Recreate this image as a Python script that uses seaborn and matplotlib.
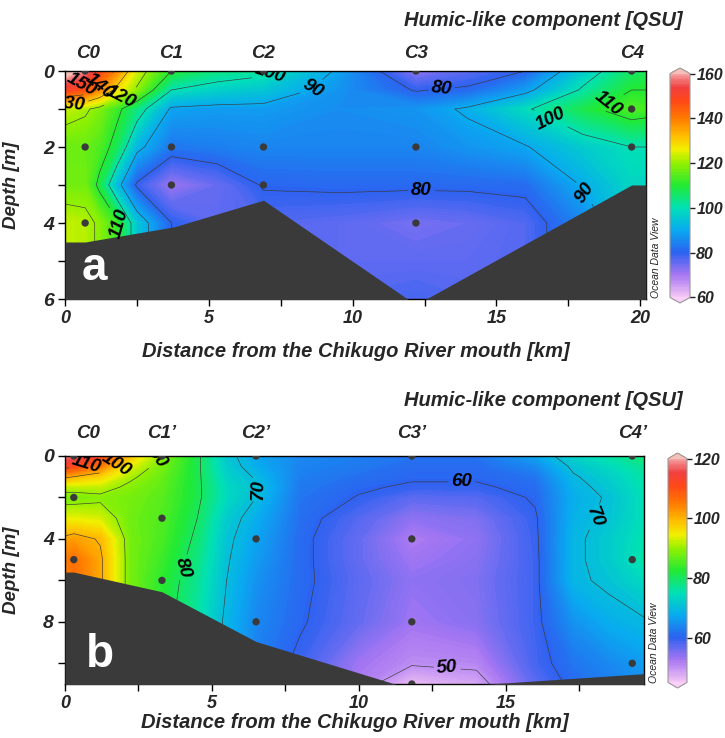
import numpy as np
import matplotlib
matplotlib.use("Agg")
import matplotlib.pyplot as plt
import seaborn as sns
from matplotlib.colors import LinearSegmentedColormap
from matplotlib.ticker import MultipleLocator
import matplotlib.transforms as mtransforms

# ---------------- panel a (gridded section) ----------------
dist_a = [0, 0.7, 1.2, 1.8, 2.5, 3.7, 5.3, 6.9, 9.5, 12.2, 14.0, 16.0, 18.0, 19.7, 20.2]
depth_a = [0, 0.5, 1, 2, 3, 4, 5, 6]
humic_a = [
    [165, 158, 148, 138, 124, 110, 104, 102, 89, 72, 76, 80, 96, 106, 107],
    [150, 146, 138, 128, 119, 100, 97, 95, 87, 79.5, 81, 88, 101, 110, 110],
    [123, 121, 118, 112, 104, 89, 88, 88, 86, 87, 91, 99, 108, 114, 113],
    [116, 116, 114, 107, 92, 83, 84, 85, 85, 85, 87, 89.5, 96, 100, 100],
    [117, 117, 108, 93, 79, 71, 75, 80.5, 81, 81, 81, 81.5, 90.5, 98, 98],
    [123, 122, 119, 112, 95, 80, 76, 77, 76, 74, 75, 77, 85, 97, 97],
    [123, 122, 119, 112, 95, 80, 76, 77, 76, 76, 76, 77, 85, 97, 97],
    [123, 122, 119, 112, 95, 80, 76, 77, 77, 78, 77, 77, 85, 97, 97],
]
bottom_km_a = [0, 0.7, 3.8, 6.9, 12.2, 19.7, 20.2]
bottom_depth_a = [4.5, 4.5, 4.1, 3.4, 6.15, 3.0, 3.0]
stations_a = ["C0", "C1", "C2", "C3", "C4"]
station_km_a = [0.7, 3.7, 6.9, 12.2, 19.7]
sample_km_a = [0.7, 0.7, 0.7, 3.7, 3.7, 3.7, 6.9, 6.9, 6.9, 12.2, 12.2, 12.2, 19.7, 19.7, 19.7]
sample_depth_a = [0, 2, 4, 0, 2, 3, 0, 2, 3, 0, 2, 4, 0, 1, 2]
levels_a = [80, 90, 100, 110, 120, 130, 140, 150]
label_pos_a = [(0.52, 0.24), (1.27, 0.45), (0.17, 0.82), (1.97, 0.72), (1.97, 4.0),
               (18.75, 0.68), (7.2, 0.2), (16.8, 1.4), (8.8, 0.63), (18.3, 3.1),
               (13.1, 0.5), (12.4, 3.05)]

# ---------------- panel b ----------------
dist_b = [0, 0.3, 1.2, 2.2, 3.3, 4.5, 5.5, 6.5, 8.0, 10.0, 11.8, 14.0, 16.0, 17.3, 18.5, 19.7]
depth_b = [0, 0.5, 1, 1.5, 2, 3, 4, 5, 6, 8, 10, 11]
humic_b = [
    [118, 117, 112, 99, 89, 81, 71.5, 67, 64, 63, 62, 62, 67, 73, 76, 79],
    [112, 111, 105, 94, 88, 81, 72, 68, 63.5, 62.5, 61, 61, 64, 71, 74, 77],
    [101, 100, 97, 91, 87, 81, 73, 69.5, 63, 61.5, 60.5, 60.5, 62, 69.5, 72.5, 76],
    [92, 92, 92, 89, 86.5, 81, 74, 70.5, 62.5, 60.5, 59.5, 59.5, 61, 68.5, 71.5, 75.5],
    [88, 88, 89, 88, 86, 81, 74, 70, 62, 59.8, 57, 57.5, 60.5, 68, 70.5, 75],
    [94, 94, 93, 87.5, 85.5, 80, 72, 68, 61.5, 57.5, 54, 55, 59.5, 68.5, 71, 75],
    [101, 102, 99.5, 88, 85, 79, 71, 67, 61, 56.5, 52, 54, 59.2, 69, 72, 75.5],
    [105, 106, 101, 88, 84, 78, 70.5, 66, 61, 56.5, 53, 54.5, 59, 69, 72, 76],
    [105, 106, 101, 88, 83, 77, 70, 65, 61, 57, 54, 55, 59, 69, 71, 74],
    [105, 106, 101, 88, 82, 76, 69, 64, 60.5, 56.5, 53, 54.5, 59, 65, 68, 69.5],
    [105, 106, 101, 88, 82, 76, 69, 63, 59, 53, 50.5, 51, 58.5, 62, 64, 66],
    [105, 106, 101, 88, 82, 76, 69, 63, 59, 52, 46, 48, 57, 61, 63, 65],
]
bottom_km_b = [0, 0.3, 3.3, 6.5, 11.8, 19.7]
bottom_depth_b = [5.6, 5.6, 6.55, 8.95, 11.25, 10.5]
stations_b = ["C0", "C1\u2019", "C2\u2019", "C3\u2019", "C4\u2019"]
station_km_b = [0.3, 3.3, 6.5, 11.8, 19.3]
sample_km_b = [0.3, 0.3, 0.3, 3.3, 3.3, 3.3, 6.5, 6.5, 6.5, 11.8, 11.8, 11.8, 11.8, 19.3, 19.3, 19.3]
sample_depth_b = [0, 2, 5, 0, 3, 6, 0, 4, 8, 0, 4, 8, 11, 0, 5, 10]
levels_b = [50, 60, 70, 80, 90, 100, 110]
label_pos_b = [(0.74, 0.43), (1.7, 0.35), (3.2, 0.15), (4.1, 5.4), (6.7, 1.65),
               (17.9, 2.9), (13.5, 1.5), (13.0, 10.3)]

sns.set_theme(style="ticks")
plt.rcParams["font.family"] = ["Liberation Sans", "DejaVu Sans"]
plt.rcParams["font.weight"] = "bold"
plt.rcParams["font.style"] = "italic"

odv = LinearSegmentedColormap.from_list("odv", [
    (0.00, "#f4c6f4"), (0.10, "#a676f2"), (0.20, "#2c62f0"), (0.30, "#08aaf0"),
    (0.40, "#00e0b6"), (0.50, "#22ea34"), (0.60, "#94f000"), (0.66, "#f0f000"),
    (0.72, "#ffc000"), (0.80, "#ff7a00"), (0.88, "#ff4818"), (0.94, "#f04040"),
    (1.00, "#f4a0a0")])
odv.set_over("#f6c0b8")
odv.set_under("#f8d0f8")

BOLD_IT = dict(fontweight="bold", fontstyle="italic")


def draw_section(fig, rect, crect, dist, depth, values, vmin, vmax, xmax, ymax,
                 levels, label_pos, bot_km, bot_depth, names, st_km, s_km, s_depth,
                 xticks, yticks, ymin_step, cticks, title, letter, title_y, name_y,
                 letter_xy, xlabel_y):
    ax = fig.add_axes(rect)
    cax = fig.add_axes(crect)
    X, Y = np.meshgrid(dist, depth)
    Z = np.array(values, dtype=float)
    cf = ax.contourf(X, Y, Z, levels=np.linspace(vmin, vmax, 201), cmap=odv,
                     extend="both")
    cs = ax.contour(X, Y, Z, levels=levels, colors="#3a3a3a", linewidths=0.45)
    txts = ax.clabel(cs, manual=label_pos, fmt="%d", fontsize=13.5, inline=True,
                     inline_spacing=3)
    for t in txts:
        t.set_color("black")
        t.set_fontweight("bold")
        t.set_fontstyle("italic")
    ax.fill_between(bot_km, bot_depth, ymax + 2, color="#3a3a3a", zorder=3,
                    linewidth=0)
    sns.scatterplot(x=s_km, y=s_depth, ax=ax, color="#3a3a3a", s=28,
                    edgecolor="none", legend=False, zorder=4)
    ax.set_xlim(0, xmax)
    ax.set_ylim(ymax, 0)
    ax.set_xticks(xticks)
    ax.set_yticks(yticks)
    ax.xaxis.set_minor_locator(MultipleLocator(2.5))
    ax.yaxis.set_minor_locator(MultipleLocator(ymin_step))
    ax.tick_params(which="both", direction="out", length=5, width=1,
                   color="black", pad=3)
    ax.tick_params(axis="x", labelsize=13)
    ax.tick_params(axis="y", labelsize=14)
    for lab in ax.get_xticklabels() + ax.get_yticklabels():
        lab.set_fontweight("bold")
        lab.set_fontstyle("italic")
    for sp in ax.spines.values():
        sp.set_visible(True)
        sp.set_color("black")
        sp.set_linewidth(1)
    ax.set_xlabel("Distance from the Chikugo River mouth [km]", fontsize=14.5,
                  **BOLD_IT)
    ax.set_ylabel("Depth [m]", fontsize=13.5, **BOLD_IT)
    ax.xaxis.set_label_coords(0.5, xlabel_y)
    ax.yaxis.set_label_coords(-0.077, 0.5)

    trans = mtransforms.blended_transform_factory(ax.transData, ax.transAxes)
    for n, k in zip(names, st_km):
        ax.text(max(k, 0.8), name_y, n, transform=trans, ha="center", va="center",
                fontsize=13.5, **BOLD_IT)
    ax.text(letter_xy[0], letter_xy[1], letter, transform=ax.transAxes, color="white",
            fontsize=33, fontstyle="normal", fontweight="bold", va="baseline",
            zorder=5)
    ax.text(1.017, 0.005, "Ocean Data View", transform=ax.transAxes, rotation=90,
            fontsize=7.5, fontweight="normal", fontstyle="italic", ha="center",
            va="bottom")
    fig.text(683 / 725, title_y, title, ha="right", va="center", fontsize=14.5,
             **BOLD_IT)

    cb = fig.colorbar(cf, cax=cax, ticks=cticks, extend="both", extendfrac=0.025)
    cb.outline.set_edgecolor("#9a9a9a")
    cb.outline.set_linewidth(0.8)
    cax.tick_params(direction="inout", length=7, width=1, labelsize=11.5,
                    color="#222222", pad=1)
    for lab in cax.get_yticklabels():
        lab.set_fontweight("bold")
        lab.set_fontstyle("italic")
    return ax


fig = plt.figure(figsize=(7.25, 7.38), dpi=100)

draw_section(fig, [65 / 725, 1 - 299 / 738, 581 / 725, 228 / 738],
             [670 / 725, 1 - 303 / 738, 20 / 725, 235 / 738],
             dist_a, depth_a, humic_a, 60, 160, 20.2, 6, levels_a, label_pos_a,
             bottom_km_a, bottom_depth_a, stations_a, station_km_a,
             sample_km_a, sample_depth_a, [0, 5, 10, 15, 20], [0, 2, 4, 6], 1,
             [60, 80, 100, 120, 140, 160], "Humic-like component [QSU]", "a",
             1 - 21 / 738, 1.075, (0.029, 0.083), -0.19)

draw_section(fig, [65 / 725, 1 - 684 / 738, 579 / 725, 228 / 738],
             [668 / 725, 1 - 688 / 738, 19 / 725, 235 / 738],
             dist_b, depth_b, humic_b, 45, 120, 19.7, 11, levels_b, label_pos_b,
             bottom_km_b, bottom_depth_b, stations_b, station_km_b,
             sample_km_b, sample_depth_b, [0, 5, 10, 15], [0, 4, 8], 2,
             [60, 80, 100, 120], "Humic-like component [QSU]", "b",
             1 - 401 / 738, 1.10, (0.036, 0.075), -0.125)

fig.savefig("out.png", dpi=100)
